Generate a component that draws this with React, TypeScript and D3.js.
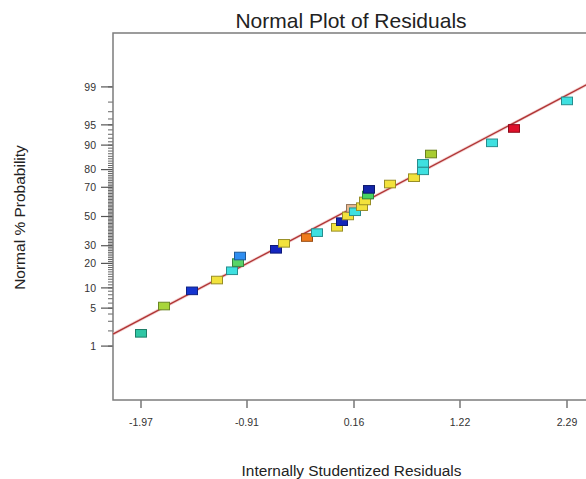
import React from "react";
import * as d3 from "d3";

// ---- data ----
const residuals = [
  -1.97, -1.74, -1.46, -1.21, -1.06, -1.0, -0.98, -0.62, -0.54, -0.31, -0.21, -0.01, 0.04, 0.1,
  0.14, 0.17, 0.24, 0.27, 0.3, 0.31, 0.52, 0.76, 0.85, 0.85, 0.93, 1.54, 1.76, 2.29,
];
const probabilities = [
  1.8, 5.4, 9.1, 12.7, 16.5, 20.4, 23.9, 27.8, 31.5, 35.3, 38.6, 42.3, 46.3, 50.4,
  55.8, 53.4, 57.0, 61.0, 65.0, 68.7, 72.0, 75.7, 79.4, 83.0, 86.9, 90.7, 94.3, 98.1,
];
const pointColors = [
  "#2fc6a4", "#a8d63a", "#1434d0", "#f2e23c", "#3ee0e0", "#58d468", "#2f8ef0", "#1426c0",
  "#f2e23c", "#f07a1c", "#3ee0e0", "#f2e23c", "#1426b8", "#f2e23c", "#e8b890", "#3ee0e0",
  "#f2e23c", "#f2e23c", "#48d460", "#1426a8", "#f2e23c", "#f2e23c", "#3ee0e0", "#3ee0e0",
  "#a8cc30", "#3ee0e0", "#e0102a", "#3ee0e0",
];
const xTickValues = [-1.97, -0.91, 0.16, 1.22, 2.29];
const xTickLabels = ["-1.97", "-0.91", "0.16", "1.22", "2.29"];
const yMajorTicks = [1, 5, 10, 20, 30, 50, 70, 80, 90, 95, 99];
const yMinorTicks = d3.range(1, 100);
const fitLine = { slope: 0.945, intercept: 0.016, from: -2.25, to: 2.6 };
const title = "Normal Plot of Residuals";
const xTitle = "Internally Studentized Residuals";
const yTitle = "Normal % Probability";

// inverse standard normal CDF (Acklam)
function probit(p: number): number {
  const a = [-39.69683028665376, 220.9460984245205, -275.9285104469687, 138.357751867269, -30.66479806614716, 2.506628277459239];
  const b = [-54.47609879822406, 161.5858368580409, -155.6989798598866, 66.80131188771972, -13.28068155288572];
  const c = [-0.007784894002430293, -0.3223964580411365, -2.400758277161838, -2.549732539343734, 4.374664141464968, 2.938163982698783];
  const d = [0.007784695709041462, 0.3224671290700398, 2.445134137142996, 3.754408661907416];
  const pl = 0.02425;
  let q: number, r: number;
  if (p < pl) {
    q = Math.sqrt(-2 * Math.log(p));
    return (((((c[0] * q + c[1]) * q + c[2]) * q + c[3]) * q + c[4]) * q + c[5]) / ((((d[0] * q + d[1]) * q + d[2]) * q + d[3]) * q + 1);
  }
  if (p <= 1 - pl) {
    q = p - 0.5;
    r = q * q;
    return ((((((a[0] * r + a[1]) * r + a[2]) * r + a[3]) * r + a[4]) * r + a[5]) * q) / (((((b[0] * r + b[1]) * r + b[2]) * r + b[3]) * r + b[4]) * r + 1);
  }
  q = Math.sqrt(-2 * Math.log(1 - p));
  return -(((((c[0] * q + c[1]) * q + c[2]) * q + c[3]) * q + c[4]) * q + c[5]) / ((((d[0] * q + d[1]) * q + d[2]) * q + d[3]) * q + 1);
}

const W = 586;
const H = 479;
const left = 113;
const top = 33;
const bottom = 400;
const right = 598;

export default function App() {
  const x = d3.scaleLinear().domain([-2.25, 2.6]).range([left, right]);
  const z = d3.scaleLinear().domain([-3.294, 3.294]).range([bottom, top]);
  const py = (p: number) => z(probit(p / 100));

  const lineGen = d3
    .line<number>()
    .x((v) => x(v))
    .y((v) => z(fitLine.slope * v + fitLine.intercept));
  const lineD = lineGen([fitLine.from, fitLine.to]) || "";

  const font = "'Liberation Sans', Arial, sans-serif";
  const axisColor = "#7c7c7c";

  return (
    <div style={{ position: "absolute", left: 0, top: 0, width: W, height: H, background: "#fff" }}>
      <svg width={W} height={H} style={{ display: "block" }} fontFamily={font}>
        <defs>
          <clipPath id="plotClip">
            <rect x={left} y={top} width={right - left} height={bottom - top} />
          </clipPath>
        </defs>
        <rect x={0} y={0} width={W} height={H} fill="#fff" />

        {/* title */}
        <text x={351} y={28} textAnchor="middle" fontSize={21} fill="#222">
          {title}
        </text>

        {/* y minor ticks */}
        {yMinorTicks.map((p) => (
          <line key={"m" + p} x1={108} x2={left} y1={py(p)} y2={py(p)} stroke="#666" strokeWidth={1} />
        ))}
        {/* y major ticks */}
        {yMajorTicks.map((p) => (
          <g key={"M" + p}>
            <line x1={101} x2={left} y1={py(p)} y2={py(p)} stroke="#555" strokeWidth={1.2} />
            <text x={96} y={py(p)} dy="0.35em" textAnchor="end" fontSize={10.5} fill="#333">
              {p}
            </text>
          </g>
        ))}

        {/* x ticks */}
        {xTickValues.map((v, i) => (
          <g key={"x" + i}>
            <line x1={x(v)} x2={x(v)} y1={bottom} y2={bottom + 8} stroke="#555" strokeWidth={1.2} />
            <text x={x(v)} y={426} textAnchor="middle" fontSize={10.5} fill="#333">
              {xTickLabels[i]}
            </text>
          </g>
        ))}

        {/* plot frame */}
        <rect x={left} y={top} width={right - left} height={bottom - top} fill="none" stroke={axisColor} strokeWidth={1.5} />

        {/* fit line */}
        <g clipPath="url(#plotClip)">
          <path d={lineD} fill="none" stroke="#f0b8b8" strokeWidth={3} opacity={0.6} />
          <path d={lineD} fill="none" stroke="#b03636" strokeWidth={1.4} />
        </g>

        {/* points */}
        {residuals.map((r, i) => {
          const col = pointColors[i];
          const stroke = d3.color(col)!.darker(1.3).formatHex();
          return (
            <rect
              key={"p" + i}
              x={x(r) - 5.5}
              y={py(probabilities[i]) - 3.8}
              width={11}
              height={7.6}
              fill={col}
              stroke={stroke}
              strokeWidth={1}
            />
          );
        })}

        {/* axis titles */}
        <text x={351.5} y={476} textAnchor="middle" fontSize={15.4} fill="#222">
          {xTitle}
        </text>
        <text
          transform={`translate(25,217.5) rotate(-90)`}
          textAnchor="middle"
          fontSize={15.5}
          fill="#222"
        >
          {yTitle}
        </text>
      </svg>
    </div>
  );
}
